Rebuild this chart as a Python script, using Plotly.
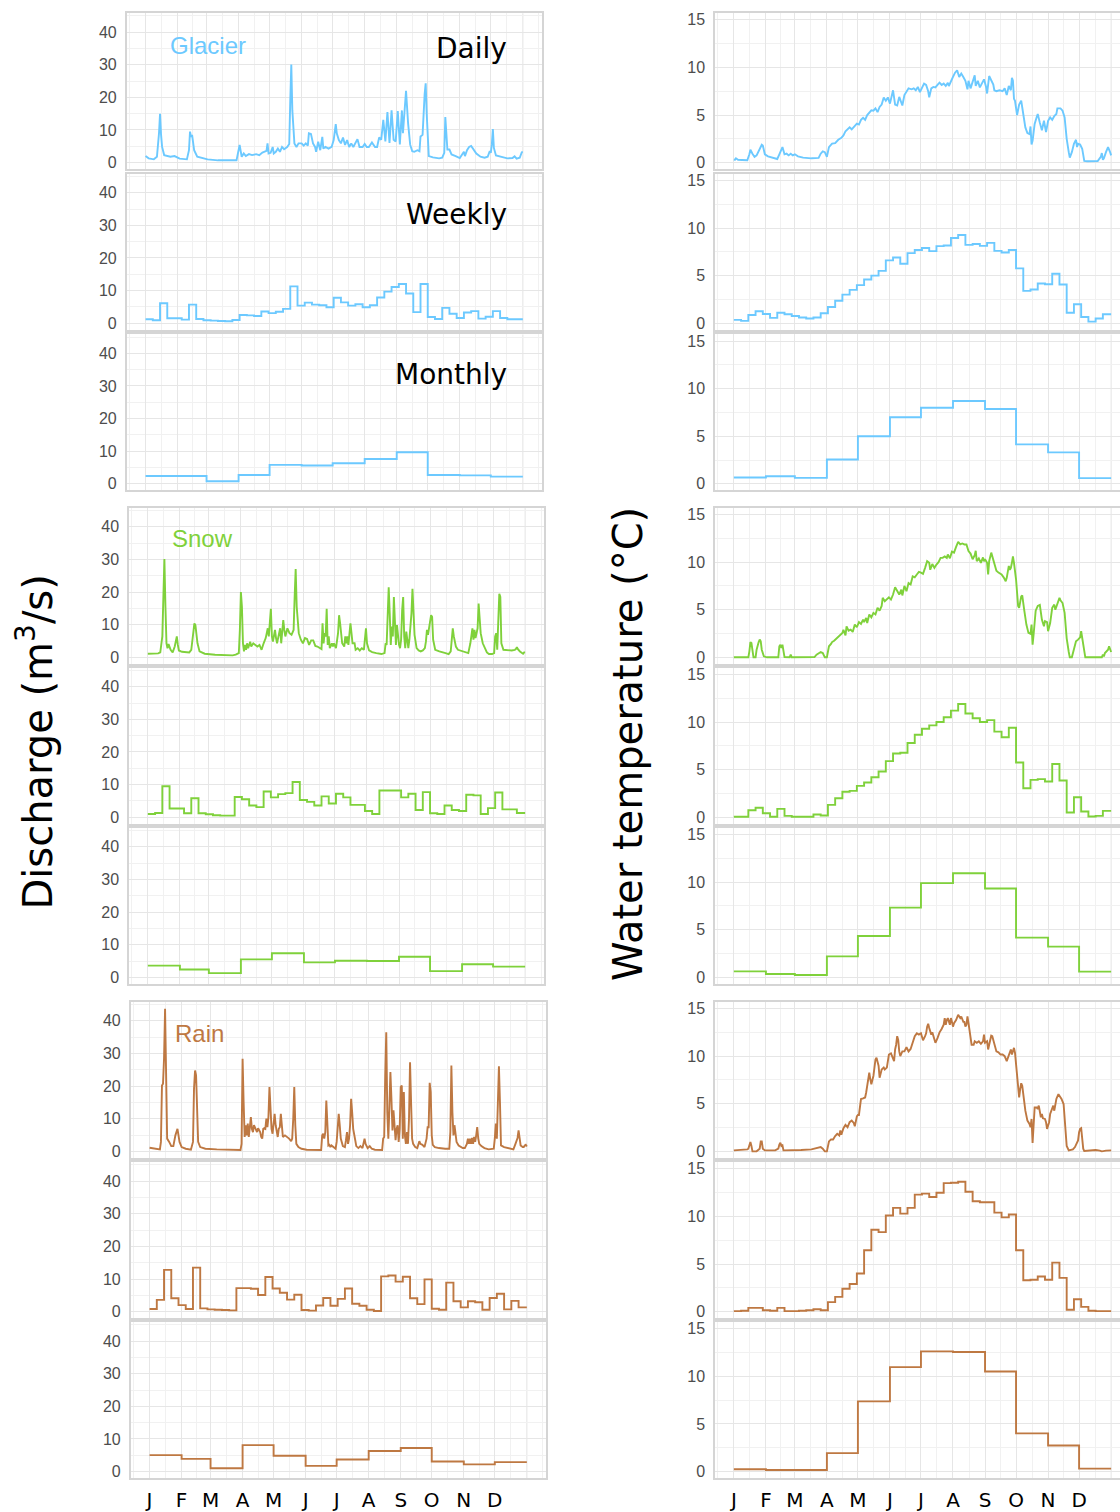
import plotly.graph_objects as go

# ---------------------------------------------------------------- data
MONTH_STARTS = [0, 31, 59, 90, 120, 151, 181, 212, 243, 273, 304, 334, 365]
MONTH_LABELS = ["J", "F", "M", "A", "M", "J", "J", "A", "S", "O", "N", "D"]
WEEK_STARTS = list(range(0, 364, 7))  # 52 weekly steps

GROUPS = ["Glacier", "Snow", "Rain"]
COLORS = {"Glacier": "#6CC9FF", "Snow": "#7FD13B", "Rain": "#BE7842"}
RESOLUTIONS = ["Daily", "Weekly", "Monthly"]

# --- daily discharge (day of year, m3/s)
GLACIER_Q_DAILY = [(0,2.0),(3,1.3),(8,1.0),(11,1.8),(13,9.0),(14,15.0),(15,8.5),(16,4.8),(18,2.3),(24,1.8),(28,2.0),(33,1.2),(40,1.0),(42,3.8),(43,9.5),(44,7.9),(45,8.5),(47,3.8),(50,1.8),(60,1.0),(70,0.7),(80,0.6),(88,0.7),(91,5.4),(93,1.8),(95,2.8),(97,2.0),(100,2.6),(103,2.3),(107,2.6),(110,2.3),(113,3.1),(117,3.6),(118,5.9),(119,2.8),(121,3.0),(123,4.8),(124,2.8),(126,3.3),(128,4.3),(130,3.3),(132,4.8),(134,4.1),(137,4.8),(139,5.7),(140,19.0),(141,30.1),(142,16.0),(144,5.9),(146,4.8),(148,5.9),(151,5.9),(153,5.2),(155,5.9),(157,5.2),(158,9.0),(160,8.8),(162,5.9),(164,4.8),(165,3.3),(167,6.4),(169,3.8),(171,7.9),(172,4.3),(174,4.8),(177,4.3),(180,4.8),(182,6.9),(184,11.8),(185,9.0),(187,6.9),(189,5.9),(191,7.7),(193,5.4),(195,6.9),(197,4.8),(199,5.9),(201,4.8),(203,6.1),(205,7.2),(207,4.8),(210,4.8),(212,5.7),(214,4.8),(216,4.8),(219,6.2),(222,4.8),(224,4.8),(226,7.7),(228,7.0),(230,13.1),(232,6.5),(234,15.5),(236,6.0),(238,16.0),(240,7.0),(242,6.5),(244,15.8),(246,5.6),(248,16.0),(249,9.0),(251,18.0),(252,22.0),(254,12.0),(256,5.5),(258,3.5),(260,3.3),(263,3.8),(265,3.5),(266,8.0),(268,8.5),(270,21.0),(271,24.3),(272,15.0),(274,2.0),(278,1.6),(284,1.3),(287,1.5),(289,3.0),(290,14.0),(291,8.5),(292,4.0),(294,4.0),(296,2.5),(300,2.0),(304,1.4),(308,3.3),(309,2.0),(311,3.8),(313,4.8),(315,5.1),(317,4.2),(320,2.8),(324,1.8),(328,1.5),(331,1.8),(333,3.5),(334,3.0),(335,5.5),(336,10.3),(337,4.5),(339,2.2),(344,1.8),(350,1.3),(355,1.4),(357,1.9),(359,1.2),(362,1.5),(364,3.2),(365,3.3)]

SNOW_Q_DAILY = [(0,1.1),(10,1.2),(12,1.5),(14,6.4),(15,18.5),(16,30.1),(17,15.5),(18,4.3),(19,2.8),(20,4.1),(22,2.3),(24,1.5),(26,3.3),(28,6.4),(29,3.8),(30,2.1),(33,1.7),(40,1.5),(42,2.3),(44,9.4),(45,10.4),(46,9.9),(48,4.3),(50,1.8),(55,1.1),(65,0.8),(75,0.6),(82,0.6),(85,0.8),(88,1.3),(89,8.4),(90,20.0),(91,15.5),(92,4.3),(93,1.8),(94,3.8),(95,2.3),(96,4.3),(97,2.8),(99,4.8),(100,3.3),(102,4.3),(104,3.8),(106,3.3),(108,3.8),(110,2.3),(112,4.3),(114,5.9),(116,8.9),(117,6.4),(119,14.9),(120,6.4),(121,4.8),(123,8.4),(124,5.9),(125,4.3),(127,7.4),(128,8.9),(129,4.3),(131,11.4),(132,8.4),(133,6.4),(135,8.9),(137,7.4),(139,6.9),(141,8.4),(142,18.5),(143,27.1),(144,15.5),(146,7.4),(148,5.4),(150,4.3),(152,5.9),(154,5.6),(156,3.8),(158,5.2),(160,5.2),(162,3.5),(164,3.3),(166,2.8),(168,2.5),(169,10.4),(170,4.3),(171,7.4),(172,6.4),(173,14.9),(174,3.8),(175,6.4),(176,2.8),(178,4.3),(179,3.3),(180,4.3),(182,2.8),(184,7.4),(185,12.9),(186,10.4),(188,4.3),(190,3.3),(191,6.4),(192,4.3),(193,6.4),(194,3.8),(195,8.9),(196,10.4),(197,7.4),(198,4.3),(200,4.3),(201,2.3),(203,2.8),(205,2.1),(207,2.8),(209,2.3),(211,8.9),(212,4.3),(214,2.1),(217,1.6),(221,1.3),(226,1.0),(229,1.3),(230,4.3),(231,3.8),(232,15.5),(233,21.5),(234,13.4),(235,3.8),(236,9.4),(237,6.4),(238,18.5),(239,8.9),(240,3.8),(241,9.9),(242,6.4),(243,3.8),(244,2.8),(245,5.4),(246,14.4),(247,18.5),(248,6.4),(249,2.8),(250,7.9),(251,5.4),(252,2.8),(253,5.4),(254,9.4),(255,13.4),(256,21.0),(257,14.4),(258,6.9),(260,2.8),(262,2.1),(264,1.8),(266,2.1),(268,2.8),(269,4.8),(270,8.4),(271,6.9),(272,8.9),(274,12.9),(275,12.4),(276,5.4),(278,2.3),(282,1.8),(288,1.3),(291,1.0),(293,1.8),(295,8.9),(296,6.4),(298,3.3),(300,2.3),(302,2.1),(306,1.6),(310,1.3),(312,4.3),(314,8.9),(315,5.4),(316,8.4),(317,5.9),(319,8.9),(320,16.5),(321,11.4),(322,7.4),(324,4.3),(326,2.8),(328,1.5),(330,1.0),(333,1.0),(335,1.3),(336,6.4),(337,7.4),(338,2.3),(339,10.9),(340,19.5),(341,18.5),(342,4.3),(344,2.3),(348,2.1),(352,2.1),(355,2.3),(356,2.5),(357,3.1),(358,2.5),(360,1.8),(362,1.3),(363,1.1),(364,1.5),(365,1.5)]

RAIN_Q_DAILY = [(0,1.1),(5,0.8),(10,0.6),(11,2.9),(12,20.2),(13,20.7),(14,28.4),(15,43.7),(16,20.2),(17,3.9),(19,2.9),(21,1.6),(23,1.6),(25,4.9),(27,6.9),(28,4.9),(29,2.9),(31,1.3),(35,0.8),(40,0.5),(42,2.9),(43,19.2),(44,24.8),(45,23.3),(46,11.0),(47,2.9),(49,1.3),(54,0.8),(65,0.6),(80,0.4),(88,0.4),(89,2.3),(90,28.4),(91,15.1),(92,4.4),(93,8.0),(94,4.9),(95,8.5),(96,4.4),(97,7.4),(98,10.5),(99,6.9),(100,5.9),(101,8.0),(103,6.9),(104,5.9),(105,7.1),(107,5.9),(108,4.4),(109,3.9),(110,6.9),(111,7.1),(112,6.9),(113,10.0),(114,7.4),(115,10.5),(116,19.7),(117,13.1),(118,6.9),(119,5.4),(120,8.5),(121,11.5),(122,8.0),(123,5.9),(124,4.4),(125,6.9),(126,7.4),(127,11.5),(128,6.9),(129,4.4),(131,4.9),(133,4.4),(135,3.9),(137,3.1),(138,3.9),(139,10.0),(140,19.7),(141,8.0),(142,2.3),(144,1.3),(147,0.8),(152,0.5),(160,0.4),(166,0.4),(167,4.9),(168,5.4),(169,3.9),(170,5.9),(171,15.6),(172,6.9),(173,1.8),(174,2.0),(175,1.3),(176,1.8),(178,1.3),(180,0.8),(181,2.9),(182,6.9),(183,11.5),(184,8.0),(185,3.9),(187,1.6),(189,1.3),(190,3.4),(191,5.9),(192,2.3),(193,3.9),(194,8.0),(195,16.1),(196,12.0),(197,6.9),(199,3.4),(200,1.6),(202,1.0),(204,1.6),(206,1.0),(208,3.9),(209,2.3),(211,1.0),(213,1.6),(215,0.8),(218,0.5),(225,0.4),(226,3.9),(227,4.4),(228,23.3),(229,36.5),(230,12.0),(231,3.9),(232,13.1),(233,24.3),(234,16.1),(235,6.4),(236,12.6),(237,8.0),(238,3.4),(239,6.9),(240,8.0),(241,2.9),(242,6.9),(243,19.7),(244,20.2),(245,3.9),(246,18.2),(247,4.9),(248,2.3),(249,5.9),(250,2.3),(251,10.0),(252,27.3),(253,15.1),(254,3.9),(255,2.3),(257,1.3),(259,1.0),(261,3.1),(262,2.3),(264,2.0),(266,1.3),(268,3.9),(269,7.4),(270,7.4),(271,21.0),(272,18.2),(273,4.9),(274,2.0),(276,1.3),(280,1.0),(286,0.8),(290,0.8),(291,5.9),(292,26.3),(293,12.0),(294,4.9),(295,8.0),(296,4.9),(297,2.9),(299,1.8),(301,1.3),(303,1.0),(305,1.0),(307,2.3),(308,3.9),(309,2.3),(310,3.9),(311,2.3),(312,4.1),(313,2.3),(314,4.4),(315,2.9),(316,4.9),(317,7.4),(318,3.9),(319,2.3),(321,1.6),(324,1.0),(328,0.6),(333,0.8),(334,3.9),(335,8.5),(336,3.9),(337,19.2),(338,26.1),(339,15.1),(340,1.8),(343,1.3),(348,0.8),(352,0.6),(354,2.3),(356,4.1),(357,6.4),(358,3.9),(359,1.8),(361,1.3),(362,1.3),(363,1.8),(364,2.0),(365,1.5)]

# --- daily water temperature (day of year, deg C)
GLACIER_T_DAILY = [(0,0.35),(1,0.3),(2,0.45),(4,0.3),(8,0.28),(13,0.25),(15,0.87),(16,1.35),(18,0.94),(20,0.6),(22,0.76),(25,1.46),(27,1.88),(28,1.8),(30,0.87),(33,0.66),(38,0.52),(42,0.38),(44,0.87),(46,1.35),(47,1.63),(49,0.87),(51,0.94),(53,0.76),(55,0.94),(57,0.76),(59,0.87),(62,0.66),(67,0.52),(75,0.45),(82,0.49),(84,0.94),(86,1.18),(88,1.1),(90,0.6),(92,1.63),(95,2.0),(98,2.05),(101,2.4),(104,2.6),(106,2.85),(108,3.3),(110,3.54),(112,3.7),(114,3.5),(117,3.9),(119,4.1),(121,4.0),(123,4.5),(125,4.7),(127,4.5),(129,5.0),(131,5.2),(133,5.5),(135,5.45),(137,5.7),(139,5.3),(141,5.85),(143,6.1),(145,6.85),(147,6.5),(149,6.85),(151,6.2),(153,7.2),(154,7.6),(156,6.1),(158,6.0),(160,6.9),(162,6.4),(163,6.0),(165,7.1),(167,7.5),(169,7.8),(172,7.7),(174,7.8),(176,7.6),(178,7.95),(180,7.4),(182,7.9),(184,8.3),(186,8.16),(188,7.5),(189,6.85),(191,7.8),(193,7.95),(195,7.9),(197,8.16),(199,8.4),(201,8.16),(203,8.3),(205,8.05),(207,8.4),(208,8.05),(210,8.6),(212,9.0),(214,9.45),(216,9.7),(218,9.0),(220,9.35),(222,9.0),(224,8.6),(226,7.7),(227,8.6),(229,7.8),(231,8.5),(233,9.17),(234,8.05),(236,8.6),(238,7.9),(240,8.4),(242,8.75),(244,7.95),(245,7.26),(247,9.1),(249,8.6),(251,8.2),(252,7.6),(254,7.5),(257,7.6),(260,7.5),(262,7.8),(264,7.1),(266,8.05),(268,7.6),(269,8.9),(270,8.6),(271,6.7),(272,6.5),(274,5.0),(276,6.1),(278,6.5),(280,4.9),(282,3.7),(284,3.1),(286,3.0),(287,3.8),(288,1.9),(289,2.3),(291,4.06),(293,4.8),(294,5.1),(296,4.2),(298,3.4),(300,4.4),(302,3.2),(304,4.4),(306,4.75),(308,4.5),(310,4.9),(312,5.1),(313,5.7),(316,5.7),(318,5.45),(320,4.75),(322,2.5),(324,1.1),(325,0.52),(327,1.1),(329,1.98),(331,2.4),(332,1.63),(333,1.98),(335,1.9),(337,1.46),(339,0.17),(342,0.14),(347,0.17),(352,0.17),(355,0.6),(356,1.0),(357,0.3),(358,0.45),(360,1.1),(362,1.63),(364,1.1),(365,0.76)]

SNOW_T_DAILY = [(0,0.0),(14,0.0),(15,0.63),(16,1.6),(17,1.5),(18,0.56),(19,0.0),(21,0.0),(22,0.8),(24,1.6),(25,1.86),(26,1.68),(27,0.8),(29,0.1),(32,0.0),(43,0.0),(44,1.16),(45,1.33),(46,0.98),(47,1.33),(48,0.56),(49,0.03),(54,0.0),(55,0.28),(56,0.0),(65,0.0),(78,0.03),(80,0.28),(82,0.45),(84,0.56),(86,0.45),(88,0.0),(90,0.0),(92,1.16),(94,1.4),(95,1.6),(97,1.75),(99,1.96),(101,2.2),(103,2.4),(105,2.56),(106,2.9),(108,2.3),(109,3.26),(111,2.8),(113,2.9),(115,2.67),(117,3.44),(119,3.16),(121,3.7),(123,3.5),(125,3.96),(126,3.7),(128,4.14),(129,3.6),(131,4.5),(133,4.2),(135,4.67),(137,4.5),(139,5.2),(141,4.9),(143,5.4),(144,6.25),(146,5.9),(148,6.07),(150,6.3),(152,6.07),(154,6.6),(156,7.37),(158,6.95),(160,6.6),(162,7.1),(163,6.5),(165,7.5),(167,6.95),(169,7.8),(171,7.65),(173,8.5),(175,8.4),(177,8.7),(179,8.98),(181,8.9),(183,8.77),(185,9.4),(187,10.1),(189,9.93),(190,9.2),(192,9.8),(194,9.4),(196,9.75),(198,10.0),(200,10.45),(202,10.45),(204,10.6),(206,10.45),(207,10.8),(209,10.4),(211,11.1),(213,11.0),(215,11.6),(217,12.14),(219,11.86),(221,11.96),(223,11.86),(225,11.86),(227,11.16),(229,10.9),(231,10.3),(233,10.74),(234,11.2),(235,10.1),(237,10.4),(239,9.93),(241,10.5),(242,10.1),(243,10.3),(245,9.93),(246,8.7),(247,10.1),(249,11.0),(250,10.6),(252,9.8),(254,9.1),(256,8.9),(259,8.7),(261,8.4),(263,8.0),(264,8.35),(266,9.6),(267,9.2),(268,9.4),(269,9.93),(270,10.6),(271,9.93),(273,8.2),(275,5.4),(276,5.2),(278,6.4),(279,6.5),(281,4.9),(283,3.44),(285,2.56),(287,2.46),(288,3.44),(289,1.33),(290,2.4),(292,4.9),(294,5.4),(296,5.5),(298,3.96),(300,3.26),(301,3.8),(303,3.7),(304,2.74),(306,3.6),(308,5.2),(310,5.54),(311,5.0),(313,5.54),(315,6.25),(316,6.0),(318,5.7),(320,4.67),(322,2.0),(324,0.56),(325,0.0),(327,0.0),(329,0.8),(331,1.68),(333,1.86),(335,2.1),(336,2.74),(337,2.0),(339,0.63),(340,0.0),(350,0.0),(356,0.0),(357,0.28),(358,0.1),(359,0.45),(361,0.63),(362,0.8),(363,1.16),(365,0.56)]

RAIN_T_DAILY = [(0,0.1),(10,0.14),(13,0.2),(14,0.28),(15,0.8),(16,0.97),(17,0.56),(18,0.0),(22,0.0),(25,0.28),(26,1.04),(27,1.04),(28,0.28),(30,0.1),(40,0.1),(43,0.28),(44,0.7),(45,0.9),(46,0.56),(47,0.63),(48,0.1),(55,0.1),(65,0.14),(75,0.2),(80,0.35),(84,0.45),(86,0.28),(88,0.0),(90,0.0),(91,0.8),(92,1.04),(94,1.25),(96,1.25),(98,1.6),(100,1.84),(102,1.67),(103,2.2),(104,1.74),(106,2.43),(108,2.78),(110,2.53),(112,3.06),(114,3.23),(116,2.99),(117,2.64),(119,3.68),(120,3.82),(121,3.82),(122,4.6),(123,5.5),(125,5.56),(127,5.66),(128,6.18),(130,7.4),(131,8.26),(132,7.57),(133,7.05),(135,7.92),(137,9.65),(138,9.83),(140,9.0),(141,7.74),(143,8.6),(145,8.8),(146,8.6),(148,8.8),(149,9.3),(150,10.17),(152,10.3),(153,10.07),(155,9.48),(156,10.7),(157,11.2),(158,12.1),(159,11.7),(160,10.5),(161,10.0),(163,10.5),(165,10.5),(167,10.94),(169,10.5),(171,10.76),(173,11.4),(175,12.1),(177,12.4),(179,12.26),(181,12.4),(183,11.67),(185,12.1),(186,12.4),(187,13.1),(188,13.4),(189,12.95),(191,12.26),(192,12.5),(194,11.9),(195,11.4),(197,11.9),(199,12.5),(201,12.85),(203,13.3),(204,14.0),(205,13.3),(206,13.8),(207,14.0),(209,13.3),(210,14.0),(211,13.6),(212,13.1),(213,13.47),(215,13.8),(217,14.34),(219,14.0),(220,14.17),(222,13.6),(223,13.6),(224,13.1),(225,13.3),(226,14.17),(227,13.47),(228,12.78),(229,11.7),(230,11.2),(232,11.2),(233,11.56),(235,11.4),(237,11.56),(239,11.3),(241,11.56),(242,12.26),(243,11.4),(245,11.56),(246,10.7),(247,11.2),(249,12.15),(250,12.1),(252,11.2),(254,10.5),(256,10.4),(258,10.17),(260,10.17),(262,10.0),(264,9.48),(265,9.83),(267,10.5),(268,10.7),(269,10.17),(270,10.7),(271,10.87),(272,10.35),(273,8.96),(274,7.57),(275,6.18),(276,5.66),(277,6.53),(278,7.15),(279,6.88),(281,5.14),(282,4.27),(284,3.23),(286,2.88),(287,2.53),(288,3.4),(289,0.87),(290,3.23),(291,4.6),(293,4.6),(294,4.44),(295,4.8),(297,3.58),(298,3.92),(299,3.47),(301,3.4),(302,3.06),(303,2.36),(305,3.06),(306,3.92),(308,4.44),(309,4.8),(310,4.27),(311,4.8),(312,5.5),(314,6.0),(316,5.66),(317,5.5),(319,4.97),(320,3.75),(321,2.0),(322,0.56),(324,0.1),(328,0.2),(330,0.45),(331,0.7),(332,0.8),(333,1.15),(334,2.0),(335,2.36),(336,2.43),(337,1.3),(338,0.28),(339,0.03),(345,0.1),(350,0.14),(354,0.07),(356,0.0),(360,0.07),(365,0.1)]

# --- weekly means (52 weeks)
GLACIER_Q_WEEKLY = [1.2,0.9,6.1,1.5,1.5,1.1,5.7,1.3,0.9,0.8,0.7,0.6,1.0,2.5,2.4,2.2,3.6,3.1,3.5,4.4,11.3,5.4,6.3,5.7,5.5,4.9,7.8,6.4,5.4,5.8,4.9,5.5,7.9,9.7,11.1,12.0,9.1,3.4,12.0,1.9,1.3,4.7,2.9,1.6,3.3,3.7,1.4,2.0,3.7,1.6,1.2,1.2]
SNOW_Q_WEEKLY = [1.0,1.3,9.5,2.7,2.7,1.2,5.8,1.2,0.9,0.6,0.5,0.5,6.2,5.5,3.6,3.1,7.9,6.1,7.1,7.4,10.8,5.3,4.7,3.6,6.4,4.2,7.2,6.1,3.8,3.8,1.9,1.0,8.2,8.2,8.2,6.1,7.2,2.2,7.7,1.2,1.0,3.6,2.2,1.9,6.9,6.7,1.0,2.8,7.6,2.4,2.4,1.3]
RAIN_Q_WEEKLY = [0.8,3.6,12.8,4.1,2.0,0.8,13.5,1.0,0.7,0.6,0.5,0.4,7.2,7.2,7.0,5.1,10.6,7.1,5.8,3.7,5.2,0.5,0.3,1.9,4.2,1.8,3.9,7.1,2.4,1.8,0.6,0.2,10.8,11.1,9.2,10.7,4.1,2.3,9.9,0.9,0.6,8.9,3.2,1.3,3.2,2.9,0.6,4.2,5.5,0.7,3.3,1.3]
GLACIER_T_WEEKLY = [0.35,0.25,0.87,1.25,0.97,0.56,1.1,0.94,0.76,0.6,0.5,0.6,1.05,1.7,2.36,3.0,3.5,4.0,4.6,5.0,5.5,6.6,6.9,6.25,7.36,7.7,7.9,7.57,8.1,8.16,8.96,9.27,8.23,8.33,8.13,8.44,7.6,7.43,7.7,5.76,3.4,3.54,4.17,4.1,5.2,4.06,1.1,2.0,0.66,0.17,0.49,0.94]
SNOW_T_WEEKLY = [0.05,0.05,0.74,1.0,0.42,0.05,0.88,0.14,0.05,0.05,0.05,0.28,0.18,1.3,2.0,2.67,2.77,3.3,3.65,4.2,4.8,5.9,6.7,6.77,7.8,8.67,9.3,9.65,10.0,10.5,11.2,11.9,10.9,10.4,10.0,10.2,9.0,8.4,9.4,5.75,3.05,3.93,4.0,3.75,5.6,3.86,0.5,2.1,0.6,0.07,0.14,0.67]
RAIN_T_WEEKLY = [0.05,0.1,0.4,0.4,0.15,0.1,0.4,0.05,0.05,0.1,0.15,0.25,0.15,1.0,1.55,2.4,2.9,4.0,6.45,8.6,8.35,10.1,10.9,10.3,10.9,12.3,12.4,12.05,12.5,13.5,13.55,13.65,12.6,11.6,11.5,11.5,10.4,9.9,10.2,6.45,3.3,3.35,3.7,3.35,5.15,3.55,0.2,1.3,0.5,0.1,0.05,0.05]

# --- monthly means (Jan..Dec)
GLACIER_Q_MONTHLY = [2.4,2.4,0.8,2.7,5.8,5.6,6.3,7.6,9.7,2.7,2.6,2.2]
SNOW_Q_MONTHLY = [3.6,2.4,1.3,5.5,7.4,4.6,5.1,5.0,6.3,1.9,4.0,3.3]
RAIN_Q_MONTHLY = [5.05,3.9,1.0,8.1,4.85,1.75,3.7,6.3,7.2,3.1,2.2,2.9]
GLACIER_T_MONTHLY = [0.67,0.8,0.63,2.56,5.0,7.0,8.0,8.7,7.86,4.14,3.3,0.6]
SNOW_T_MONTHLY = [0.63,0.35,0.24,2.2,4.34,7.33,9.9,10.94,9.34,4.17,3.23,0.6]
RAIN_T_MONTHLY = [0.24,0.17,0.17,1.94,7.37,10.97,12.63,12.56,10.52,4.01,2.73,0.31]

Q_TICKS = [0, 10, 20, 30, 40]
Q_MINOR = [5, 15, 25, 35, 45]
T_TICKS = [0, 5, 10, 15]
T_MINOR = [2.5, 7.5, 12.5]

SERIES = {
    ("Glacier", "Daily"): (GLACIER_Q_DAILY, GLACIER_T_DAILY),
    ("Snow", "Daily"): (SNOW_Q_DAILY, SNOW_T_DAILY),
    ("Rain", "Daily"): (RAIN_Q_DAILY, RAIN_T_DAILY),
    ("Glacier", "Weekly"): (GLACIER_Q_WEEKLY, GLACIER_T_WEEKLY),
    ("Snow", "Weekly"): (SNOW_Q_WEEKLY, SNOW_T_WEEKLY),
    ("Rain", "Weekly"): (RAIN_Q_WEEKLY, RAIN_T_WEEKLY),
    ("Glacier", "Monthly"): (GLACIER_Q_MONTHLY, GLACIER_T_MONTHLY),
    ("Snow", "Monthly"): (SNOW_Q_MONTHLY, SNOW_T_MONTHLY),
    ("Rain", "Monthly"): (RAIN_Q_MONTHLY, RAIN_T_MONTHLY),
}

# ---------------------------------------------------------------- layout geometry
W, H = 1120, 1512
ZERO_PX = [162, 324, 486, 661, 822.3, 983.8, 1159.3, 1321, 1482.3]
ABOVE, BELOW = 150.7, 6.6
LEFT_X0 = [126.7, 129.0, 130.7]
LEFT_W = 415.0
RIGHT_X0 = 715.0
X_RANGE = [-18.25, 383.25]
PX_PER_DAY = LEFT_W / (X_RANGE[1] - X_RANGE[0])
RIGHT_RANGE = [X_RANGE[0], X_RANGE[0] + (W - RIGHT_X0) / PX_PER_DAY]
Q_PX = 3.29
T_PX = 9.6

GRID_MAJOR = "#E6E6E6"
GRID_MINOR = "#F1F1F1"
BORDER = "#D5D5D5"
TICK_FONT = dict(family="Liberation Sans, Arial, sans-serif", size=16, color="#4D4D4D")
MONTH_FONT = dict(family="DejaVu Sans, Verdana, sans-serif", size=20, color="#000000")

x_minor = [(MONTH_STARTS[i] + MONTH_STARTS[i + 1]) / 2 for i in range(12)] + [-15.5, 380.5]


def step(starts, vals):
    return list(starts) + [365], list(vals) + [vals[-1]]


fig = go.Figure()
layout = dict(
    width=W, height=H, margin=dict(l=0, r=0, t=0, b=0),
    paper_bgcolor="white", plot_bgcolor="white", showlegend=False,
)

annotations = []
for g, group in enumerate(GROUPS):
    color = COLORS[group]
    for r, res in enumerate(RESOLUTIONS):
        row = g * 3 + r
        z = ZERO_PX[row]
        ydom = [1 - (z + BELOW) / H, 1 - (z - ABOVE) / H]
        q_data, t_data = SERIES[(group, res)]
        for col in range(2):
            n = row * 2 + col + 1
            sid = "" if n == 1 else str(n)
            data = q_data if col == 0 else t_data
            if res == "Daily":
                xs = [p[0] for p in data]
                ys = [p[1] for p in data]
            elif res == "Weekly":
                xs, ys = step(WEEK_STARTS, data)
            else:
                xs, ys = step(MONTH_STARTS[:12], data)
            fig.add_trace(go.Scatter(
                x=xs, y=ys, mode="lines",
                line=dict(color=color, width=1.9, shape="linear" if res == "Daily" else "hv"),
                xaxis=f"x{sid}", yaxis=f"y{sid}", hoverinfo="skip",
            ))
            if col == 0:
                x0 = LEFT_X0[g]
                xdom = [x0 / W, (x0 + LEFT_W) / W]
                xr = X_RANGE
                yr = [-BELOW / Q_PX, ABOVE / Q_PX]
                ticks, minor = Q_TICKS, Q_MINOR
            else:
                xdom = [RIGHT_X0 / W, 1.0]
                xr = RIGHT_RANGE
                yr = [-BELOW / T_PX, ABOVE / T_PX]
                ticks, minor = T_TICKS, T_MINOR
            bottom = row == 8
            layout[f"xaxis{sid}"] = dict(
                domain=xdom, range=xr, anchor=f"y{sid}", fixedrange=True,
                tickmode="array", tickvals=MONTH_STARTS[:12], ticktext=MONTH_LABELS,
                showticklabels=bottom, tickfont=MONTH_FONT, ticks="",
                ticklabelstandoff=3,
                showgrid=True, gridcolor=GRID_MAJOR, gridwidth=1.1, zeroline=False,
                minor=dict(tickmode="array", tickvals=x_minor, showgrid=True,
                           gridcolor=GRID_MINOR, gridwidth=0.9, ticks=""),
                showline=True, mirror=True, linecolor=BORDER, linewidth=1.5,
            )
            layout[f"yaxis{sid}"] = dict(
                domain=ydom, range=yr, anchor=f"x{sid}", fixedrange=True,
                tickmode="array", tickvals=ticks, ticktext=[str(t) for t in ticks],
                tickfont=TICK_FONT, ticks="", ticklabelstandoff=5,
                showgrid=True, gridcolor=GRID_MAJOR, gridwidth=1.1, zeroline=False,
                minor=dict(tickmode="array", tickvals=minor, showgrid=True,
                           gridcolor=GRID_MINOR, gridwidth=0.9, ticks=""),
                showline=True, mirror=(col == 0), linecolor=BORDER, linewidth=1.5,
            )
            # major gridline at the start of the following year
            fig.add_shape(type="line", x0=MONTH_STARTS[12], x1=MONTH_STARTS[12], y0=0, y1=1,
                          xref=f"x{sid}", yref=f"y{sid} domain", layer="below",
                          line=dict(color=GRID_MAJOR, width=1.1))

# resolution labels (top group) and group labels
RES_LABEL_Y = {"Daily": 47.2, "Weekly": 214.7, "Monthly": 375.7}
for res in RESOLUTIONS:
    annotations.append(dict(
        text=res, x=508.5 / W, y=1 - RES_LABEL_Y[res] / H, xref="paper", yref="paper",
        xanchor="right", yanchor="middle", showarrow=False,
        font=dict(family="DejaVu Sans, Verdana, sans-serif", size=28, color="black"),
    ))
GROUP_LABEL_POS = {"Glacier": (168.3, 43.8), "Snow": (170.0, 541.0), "Rain": (172.5, 1040.0)}
for group in GROUPS:
    gx, gy = GROUP_LABEL_POS[group]
    annotations.append(dict(
        text=group, x=gx / W, y=1 - gy / H, xref="paper", yref="paper",
        xanchor="left", yanchor="middle", showarrow=False,
        font=dict(family="Liberation Sans, Arial, sans-serif", size=24, color=COLORS[group]),
    ))

# axis titles
annotations.append(dict(
    text="Discharge (m<sup>3</sup>/s)", x=35 / W, y=1 - 747 / H, xref="paper", yref="paper",
    xanchor="center", yanchor="middle", textangle=-90, showarrow=False,
    font=dict(family="DejaVu Sans, Verdana, sans-serif", size=40, color="black"),
))
annotations.append(dict(
    text="Water temperature (°C)", x=628 / W, y=1 - 748.5 / H, xref="paper", yref="paper",
    xanchor="center", yanchor="middle", textangle=-90, showarrow=False,
    font=dict(family="DejaVu Sans, Verdana, sans-serif", size=40, color="black"),
))

layout["annotations"] = annotations
fig.update_layout(**layout)
fig.write_html("out.html")
